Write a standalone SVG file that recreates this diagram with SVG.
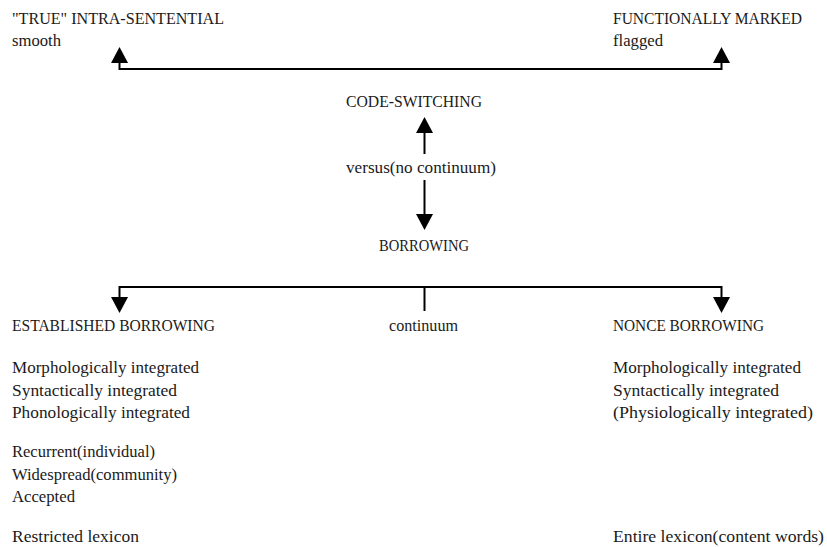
<svg xmlns="http://www.w3.org/2000/svg" width="827" height="547" viewBox="0 0 827 547">
<style>
text{font-family:"Liberation Serif","DejaVu Serif",serif;font-size:16px;fill:#1a1a1a}
.c{stroke:#000;stroke-width:2;fill:none}
</style>
<defs>
<marker id="ah" markerUnits="userSpaceOnUse" markerWidth="17" markerHeight="18" refX="0" refY="8.5" orient="auto-start-reverse" viewBox="0 0 17 18">
<path d="M0,0 L16,8.5 L0,17 z" fill="#000"/>
</marker>
</defs>
<rect width="827" height="547" fill="#fff"/>
<g id="connectors">
<path class="c" d="M119.5,63 L119.5,69 L721.5,69 L721.5,63" marker-start="url(#ah)" marker-end="url(#ah)"/>
<path class="c" d="M424.5,154 L424.5,133" marker-end="url(#ah)"/>
<path class="c" d="M424.5,180 L424.5,214" marker-end="url(#ah)"/>
<path class="c" d="M119.5,297 L119.5,287 L721.5,287 L721.5,297" marker-start="url(#ah)" marker-end="url(#ah)"/>
<path class="c" d="M424.5,287 L424.5,311"/>
</g>
<g id="intra-sentential">
<text x="12" y="24" textLength="212" lengthAdjust="spacingAndGlyphs">"TRUE" INTRA-SENTENTIAL</text>
<text x="12" y="46" textLength="49" lengthAdjust="spacingAndGlyphs">smooth</text>
</g>
<g id="functionally-marked">
<text x="613" y="24" textLength="189" lengthAdjust="spacingAndGlyphs">FUNCTIONALLY MARKED</text>
<text x="613" y="46" textLength="50" lengthAdjust="spacingAndGlyphs">flagged</text>
</g>
<g id="code-switching">
<text x="346" y="107" textLength="136" lengthAdjust="spacingAndGlyphs">CODE-SWITCHING</text>
</g>
<g id="versus">
<text x="346" y="173" textLength="150" lengthAdjust="spacingAndGlyphs">versus(no continuum)</text>
</g>
<g id="borrowing">
<text x="379" y="251" textLength="90" lengthAdjust="spacingAndGlyphs">BORROWING</text>
</g>
<g id="continuum">
<text x="389" y="331" textLength="69" lengthAdjust="spacingAndGlyphs">continuum</text>
</g>
<g id="established-borrowing">
<text x="12" y="331" textLength="203" lengthAdjust="spacingAndGlyphs">ESTABLISHED BORROWING</text>
<text x="12" y="373" textLength="187" lengthAdjust="spacingAndGlyphs">Morphologically integrated</text>
<text x="12" y="396" textLength="165" lengthAdjust="spacingAndGlyphs">Syntactically integrated</text>
<text x="12" y="418" textLength="178" lengthAdjust="spacingAndGlyphs">Phonologically integrated</text>
<text x="12" y="457" textLength="143" lengthAdjust="spacingAndGlyphs">Recurrent(individual)</text>
<text x="12" y="480" textLength="165" lengthAdjust="spacingAndGlyphs">Widespread(community)</text>
<text x="12" y="502" textLength="63" lengthAdjust="spacingAndGlyphs">Accepted</text>
<text x="12" y="542" textLength="127" lengthAdjust="spacingAndGlyphs">Restricted lexicon</text>
</g>
<g id="nonce-borrowing">
<text x="613" y="331" textLength="151" lengthAdjust="spacingAndGlyphs">NONCE BORROWING</text>
<text x="613" y="373" textLength="188" lengthAdjust="spacingAndGlyphs">Morphologically integrated</text>
<text x="613" y="396" textLength="166" lengthAdjust="spacingAndGlyphs">Syntactically integrated</text>
<text x="613" y="418" textLength="200" lengthAdjust="spacingAndGlyphs">(Physiologically integrated)</text>
<text x="613" y="542" textLength="211" lengthAdjust="spacingAndGlyphs">Entire lexicon(content words)</text>
</g>
</svg>
